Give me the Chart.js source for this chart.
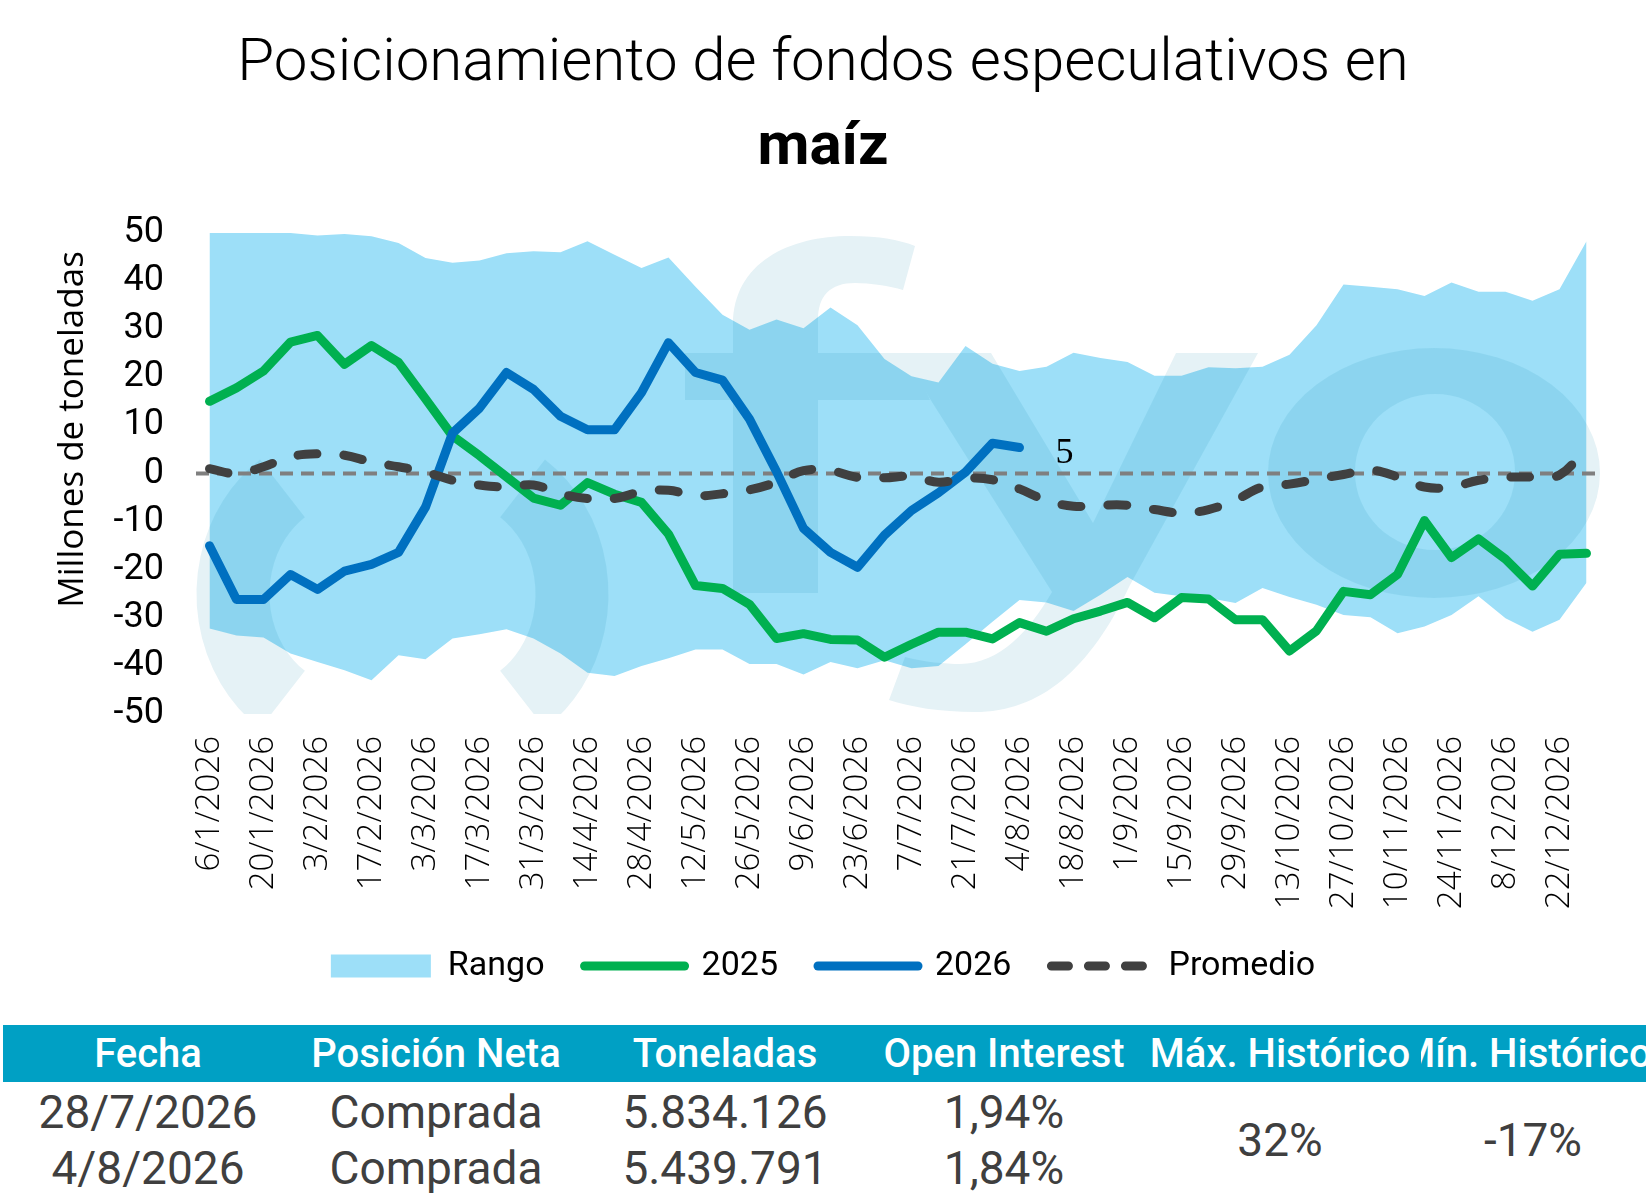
<!DOCTYPE html>
<html>
<head>
<meta charset="utf-8">
<script src="https://cdn.jsdelivr.net/npm/chart.js@4.4.1/dist/chart.umd.min.js"></script>
<style>
  html, body { margin: 0; padding: 0; background: #fff; overflow: hidden; }
  #wrap { position: relative; width: 1646px; height: 1199px; overflow: hidden; }
  #chart { position: absolute; left: 0; top: 0; }
  .hdr { position: absolute; left: 3px; top: 1025px; width: 1643px; height: 57px; background: #00a0c4; }
  .cell { position: absolute; width: 320px; text-align: center; white-space: nowrap; font-family: Roboto, sans-serif; }
  .th { color: #fff; font-size: 40px; font-weight: 500; height: 57px; line-height: 57px; }
  .td { color: #3f3f3f; font-size: 46px; font-weight: 400; height: 56px; line-height: 56px; }
  .clip { position: absolute; overflow: hidden; }
</style>
</head>
<body>
<div id="wrap">
  <canvas id="chart" width="1646" height="993"></canvas>
  <div class="hdr"></div>
  <div id="tabla"></div>
</div>
<script>
// weekly categories
const fechas = [
  "6/1/2026", "13/1/2026", "20/1/2026", "27/1/2026", "3/2/2026", "10/2/2026", "17/2/2026", "24/2/2026", "3/3/2026", "10/3/2026", "17/3/2026", "24/3/2026", "31/3/2026",
  "7/4/2026", "14/4/2026", "21/4/2026", "28/4/2026", "5/5/2026", "12/5/2026", "19/5/2026", "26/5/2026", "2/6/2026", "9/6/2026", "16/6/2026", "23/6/2026", "30/6/2026",
  "7/7/2026", "14/7/2026", "21/7/2026", "28/7/2026", "4/8/2026", "11/8/2026", "18/8/2026", "25/8/2026", "1/9/2026", "8/9/2026", "15/9/2026", "22/9/2026", "29/9/2026",
  "6/10/2026", "13/10/2026", "20/10/2026", "27/10/2026", "3/11/2026", "10/11/2026", "17/11/2026", "24/11/2026", "1/12/2026", "8/12/2026", "15/12/2026", "22/12/2026", "29/12/2026"
];

// range of previous years (millions of tonnes)
const rangoMax = [
  50, 50, 50, 50, 49.5, 49.8, 49.3, 47.9, 44.8, 43.8, 44.3, 45.8, 46.2,
  46.0, 48.3, 45.5, 42.7, 44.9, 38.8, 33.0, 29.9, 32.0, 30.2, 34.5, 30.8, 23.8,
  20.2, 18.9, 26.5, 22.8, 21.3, 22.2, 25.1, 24.0, 23.2, 20.3, 20.3, 22.1, 21.9,
  22.2, 24.7, 30.8, 39.3, 38.8, 38.3, 36.9, 39.7, 37.8, 37.8, 35.9, 38.3, 48.3
];
const rangoMin = [
  -32.2, -33.7, -34.1, -37.4, -39.2, -40.9, -43.0, -37.8, -38.6, -34.3, -33.4, -32.4, -34.3,
  -37.4, -41.4, -42.1, -40.0, -38.4, -36.6, -36.6, -39.6, -39.6, -41.8, -39.2, -40.5, -38.8,
  -40.5, -40.0, -35.5, -30.8, -26.3, -26.8, -28.6, -25.2, -21.5, -24.8, -25.5, -25.9, -26.9,
  -23.8, -25.7, -27.3, -29.4, -29.9, -33.2, -31.8, -29.4, -25.5, -30.1, -32.9, -30.4, -22.7
];
const serie2025 = [
  15.0, 17.8, 21.3, 27.3, 28.7, 22.7, 26.6, 23.1, 15.5, 7.8, 3.7, -0.7, -5.1,
  -6.6, -1.9, -4.3, -6.0, -12.6, -23.3, -23.9, -27.2, -34.3, -33.3, -34.5, -34.6, -38.2,
  -35.5, -33.0, -33.0, -34.4, -31.0, -32.8, -30.2, -28.6, -26.8, -30.0, -25.8, -26.1, -30.4,
  -30.4, -36.9, -32.7, -24.5, -25.2, -21.0, -9.8, -17.5, -13.6, -17.8, -23.4, -16.8, -16.6
];
const serie2026 = [
  -15.0, -26.2, -26.2, -21.0, -24.1, -20.3, -18.9, -16.4, -7.0, 8.4, 13.6, 21.0, 17.5,
  11.9, 9.1, 9.1, 16.8, 27.2, 21.0, 19.4, 11.3, 0.4, -11.4, -16.4, -19.5, -12.8,
  -7.7, -4.0, 0.3, 6.3, 5.4
];
const promedio = [
  1.0, 0, 1.4, 3.5, 4.1, 3.8, 2.4, 1.4, 0.3, -1.4, -2.4, -2.8, -2.4,
  -4.2, -5.2, -5.2, -3.8, -3.5, -4.6, -4.2, -3.4, -1.8, 0.6, 0.6, -0.8, -0.9,
  -0.6, -1.8, -1.0, -1.3, -3.2, -5.6, -6.8, -6.6, -6.6, -7.5, -8.2, -7.5, -5.5,
  -2.8, -2.2, -1.2, -0.2, 0.7, -0.7, -2.8, -2.8, -1.4, -0.8, -0.7, -0.3, 5.5
];
const yTicks = [-50, -40, -30, -20, -10, 0, 10, 20, 30, 40, 50];

// summary table
const tablaEncabezados = ["Fecha", "Posición Neta", "Toneladas", "Open Interest", "Máx. Histórico", "Mín. Histórico"];
const tablaFilas = [
  ["28/7/2026", "Comprada", "5.834.126", "1,94%"],
  ["4/8/2026", "Comprada", "5.439.791", "1,84%"]
];
const maxHistorico = "32%";
const minHistorico = "-17%";

function buildTable() {
  const host = document.getElementById("tabla");
  const centros = [148, 436, 725, 1004, 1280, 1533];
  const addCell = (parent, text, cls, cx, top) => {
    const d = document.createElement("div");
    d.className = "cell " + cls;
    d.textContent = text;
    d.style.left = cx - 160 + "px";
    d.style.top = top + "px";
    parent.appendChild(d);
    return d;
  };
  tablaEncabezados.forEach((h, i) => {
    if (i === 5) {
      // last header is clipped by its cell, like in the sheet
      const clip = document.createElement("div");
      clip.className = "clip";
      clip.style.left = "1421px";
      clip.style.top = "1025px";
      clip.style.width = "225px";
      clip.style.height = "57px";
      host.appendChild(clip);
      addCell(clip, h, "th", 1526 - 1421, 0);
    } else {
      addCell(host, h, "th", centros[i], 1025);
    }
  });
  tablaFilas.forEach((fila, r) => {
    fila.forEach((v, c) => addCell(host, v, "td", centros[c], 1084 + r * 56));
  });
  addCell(host, maxHistorico, "td", centros[4], 1112);
  addCell(host, minHistorico, "td", centros[5], 1112);
}

// faint logo behind the lines, drawn right after the range band
function drawWatermark(chart) {
  const ctx = chart.ctx;
  const off = document.createElement("canvas");
  off.width = chart.width;
  off.height = chart.height;
  const o = off.getContext("2d");
  o.fillStyle = "rgb(0,128,165)";
  o.strokeStyle = "rgb(0,128,165)";

  o.lineWidth = 73;
  o.beginPath();
  o.ellipse(349, 594, 116, 129, 0, (125 * Math.PI) / 180, (235 * Math.PI) / 180);
  o.stroke();
  o.beginPath();
  o.ellipse(456, 594, 116, 129, 0, (-55 * Math.PI) / 180, (55 * Math.PI) / 180);
  o.stroke();

  // f
  o.beginPath();
  o.moveTo(733, 593);
  o.lineTo(733, 400);
  o.lineTo(685, 400);
  o.lineTo(685, 353);
  o.lineTo(733, 353);
  o.lineTo(733, 325);
  o.bezierCurveTo(733, 262, 790, 236, 850, 236);
  o.bezierCurveTo(880, 236, 900, 240, 915, 246);
  o.lineTo(903, 290);
  o.bezierCurveTo(890, 286, 870, 283, 855, 283);
  o.bezierCurveTo(830, 283, 818, 296, 818, 320);
  o.lineTo(818, 353);
  o.lineTo(910, 353);
  o.lineTo(930, 400);
  o.lineTo(818, 400);
  o.lineTo(818, 593);
  o.closePath();
  o.fill();

  // y
  o.beginPath();
  o.moveTo(901, 353);
  o.lineTo(991, 353);
  o.lineTo(1093, 523);
  o.lineTo(1176, 353);
  o.lineTo(1258, 353);
  o.lineTo(1130, 585);
  o.bezierCurveTo(1090, 670, 1040, 712, 975, 712);
  o.bezierCurveTo(940, 712, 910, 707, 889, 700);
  o.lineTo(905, 657);
  o.bezierCurveTo(925, 662, 945, 664, 960, 664);
  o.bezierCurveTo(1000, 664, 1030, 630, 1052, 592);
  o.closePath();
  o.fill();

  // o
  o.beginPath();
  o.ellipse(1434, 473, 166, 125, 0, 0, Math.PI * 2);
  o.ellipse(1435, 472, 80, 78, 0, 0, Math.PI * 2);
  o.fill("evenodd");

  const a = chart.chartArea;
  ctx.save();
  ctx.beginPath();
  ctx.rect(a.left, a.top, a.right - a.left, a.bottom - a.top);
  ctx.clip();
  ctx.globalAlpha = 0.1;
  ctx.drawImage(off, 0, 0, chart.width, chart.height);
  ctx.restore();
}

const fondoPlugin = {
  id: "fondo",
  afterDatasetDraw(chart, args) {
    if (chart.data.datasets[args.index].label !== "Rango") return;
    drawWatermark(chart);
    // dashed zero line
    const ctx = chart.ctx;
    const y0 = chart.scales.y.getPixelForValue(0);
    ctx.save();
    ctx.strokeStyle = "#7f7f7f";
    ctx.lineWidth = 4;
    ctx.setLineDash([13, 8]);
    ctx.beginPath();
    ctx.moveTo(chart.chartArea.left, y0);
    ctx.lineTo(chart.chartArea.right, y0);
    ctx.stroke();
    ctx.restore();
  },
  afterDatasetsDraw(chart) {
    // value label at the last 2026 point
    const idx = chart.data.datasets.findIndex((d) => d.label === "2026");
    const meta = chart.getDatasetMeta(idx);
    const last = serie2026.length - 1;
    const pt = meta.data[last];
    const ctx = chart.ctx;
    ctx.save();
    ctx.fillStyle = "#000";
    ctx.font = "36px 'Liberation Serif', serif";
    ctx.textAlign = "center";
    ctx.textBaseline = "middle";
    ctx.fillText(String(Math.round(serie2026[last])), pt.x + 45, pt.y + 6);
    ctx.restore();
  },
};

// legend keys drawn like the lines themselves (dash, width, round caps)
function leyenda(chart) {
  const items = Chart.defaults.plugins.legend.labels.generateLabels(chart);
  items.forEach((it) => {
    const ds = chart.data.datasets[it.datasetIndex];
    if (ds.label === "Rango") return;
    it.strokeStyle = ds.borderColor;
    it.lineWidth = ds.borderWidth;
    it.lineCap = ds.borderCapStyle || "butt";
    it.lineDash = ds.borderDash ? [17, 20] : [];
  });
  return items;
}

const ctx = document.getElementById("chart").getContext("2d");
const chart = new Chart(ctx, {
  type: "line",
  data: {
    labels: fechas,
    datasets: [
      {
        label: "",
        data: rangoMin,
        borderWidth: 0,
        pointRadius: 0,
        fill: false,
        order: 4,
      },
      {
        label: "Rango",
        data: rangoMax,
        borderWidth: 0,
        borderColor: "#9ddff8",
        backgroundColor: "#9ddff8",
        pointRadius: 0,
        pointStyle: "rect",
        fill: "-1",
        order: 3,
      },
      {
        label: "2025",
        data: serie2025,
        borderColor: "#00b050",
        backgroundColor: "#00b050",
        borderWidth: 9,
        borderCapStyle: "round",
        borderJoinStyle: "round",
        pointRadius: 0,
        pointStyle: "line",
        order: 2,
      },
      {
        label: "2026",
        data: serie2026,
        borderColor: "#0070c0",
        backgroundColor: "#0070c0",
        borderWidth: 9,
        borderCapStyle: "round",
        borderJoinStyle: "round",
        pointRadius: 0,
        pointStyle: "line",
        order: 1,
      },
      {
        label: "Promedio",
        data: promedio,
        borderColor: "#404040",
        backgroundColor: "#404040",
        borderWidth: 9,
        borderDash: [19, 27],
        borderCapStyle: "round",
        tension: 0.4,
        pointRadius: 0,
        pointStyle: "line",
        order: 0,
      },
    ],
  },
  options: {
    responsive: false,
    animation: false,
    devicePixelRatio: 1,
    layout: { padding: 0 },
    scales: {
      x: {
        offset: true,
        grid: { display: false },
        border: { display: false },
        ticks: {
          autoSkip: false,
          maxRotation: 90,
          minRotation: 90,
          padding: 14,
          color: "#000",
          font: { family: "'Open Sans', sans-serif", size: 33, weight: "300" },
          callback: function (value, index) {
            return index % 2 === 0 ? this.getLabelForValue(value) : "";
          },
        },
        afterFit: (scale) => {
          scale.height = 195;
        },
      },
      y: {
        min: -50,
        max: 50,
        grid: { display: false },
        border: { display: false },
        afterBuildTicks: (scale) => {
          scale.ticks = yTicks.map((v) => ({ value: v }));
        },
        ticks: {
          padding: 24,
          color: "#000",
          font: { family: "Roboto, sans-serif", size: 36 },
        },
        title: {
          display: true,
          text: "Millones de toneladas  ",
          align: "end",
          color: "#000",
          font: { family: "'Open Sans', sans-serif", size: 35 },
          padding: { top: 52, bottom: 0 },
        },
        afterFit: (scale) => {
          scale.width = 196;
        },
      },
      y2: {
        position: "right",
        min: -50,
        max: 50,
        grid: { display: false },
        border: { display: false },
        ticks: { display: false },
        afterFit: (scale) => {
          scale.width = 46;
        },
      },
    },
    plugins: {
      title: {
        display: true,
        text: "Posicionamiento de fondos especulativos en",
        color: "#000",
        font: { family: "Roboto, sans-serif", size: 60, weight: "300" },
        padding: { top: 29, bottom: 12 },
      },
      subtitle: {
        display: true,
        text: "maíz",
        color: "#000",
        font: { family: "Roboto, sans-serif", size: 60, weight: "bold" },
        padding: { top: 0, bottom: 48 },
      },
      legend: {
        position: "bottom",
        labels: {
          usePointStyle: true,
          pointStyleWidth: 100,
          boxHeight: 23,
          padding: 40,
          color: "#000",
          font: { family: "Roboto, sans-serif", size: 34 },
          generateLabels: leyenda,
          filter: (item) => item.text !== "",
          sort: (a, b) => a.datasetIndex - b.datasetIndex,
        },
      },
      tooltip: { enabled: false },
    },
  },
  plugins: [fondoPlugin],
});

buildTable();
</script>
</body>
</html>
